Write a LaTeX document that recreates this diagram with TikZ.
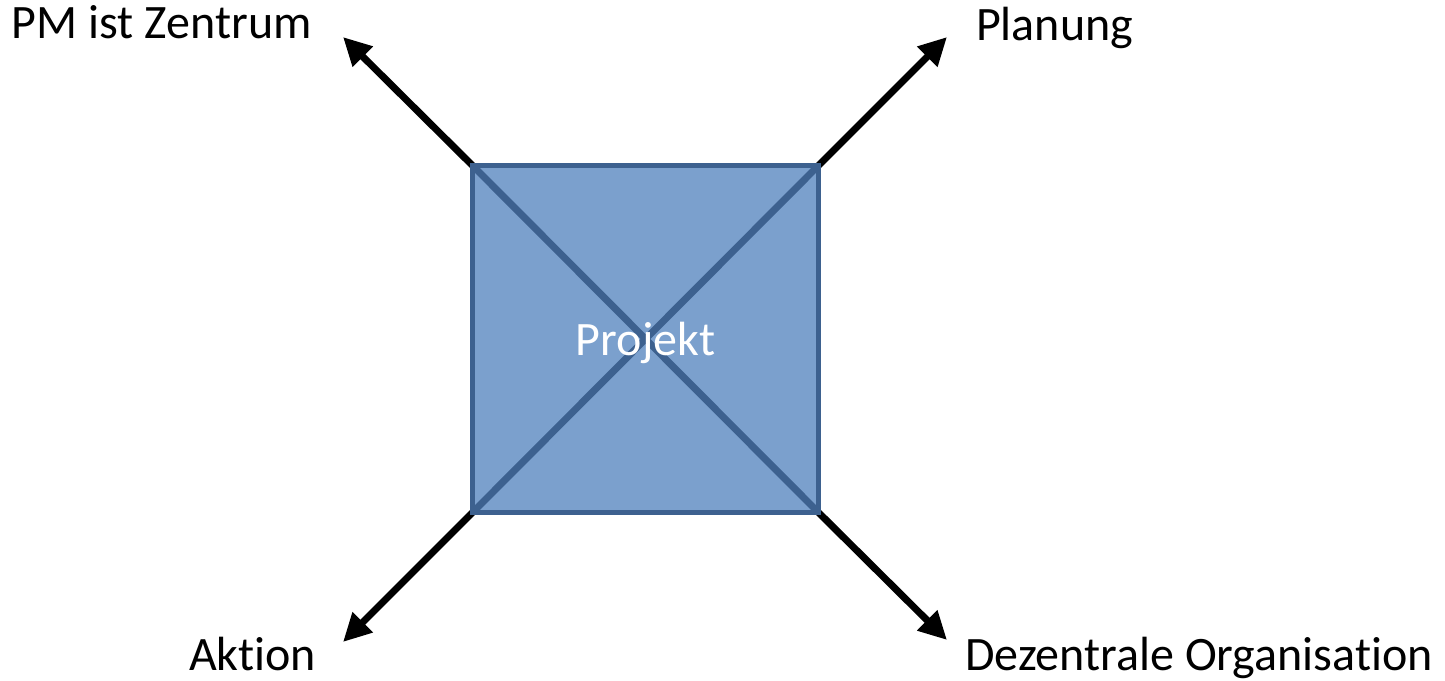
\documentclass[tikz,border=0pt]{standalone}
\usepackage{fontspec}
\setmainfont{Carlito}[Ligatures=NoCommon]
\usetikzlibrary{arrows.meta}
\definecolor{boxfill}{RGB}{123,160,205}
\definecolor{boxline}{RGB}{61,97,143}
\begin{document}
\begin{tikzpicture}[x=1pt,y=-1pt,
  lbl/.style={inner sep=0pt,outer sep=0pt,anchor=base west,font=\fontsize{48}{55}\selectfont},
  arr/.style={line width=7pt,-{Triangle[length=28pt,width=27pt]}},
  boxst/.style={draw=boxline,fill=boxfill,line width=5pt,minimum width=346pt,minimum height=347pt,inner sep=0pt,outer sep=0pt},
  diag/.style={draw=boxline,line width=7pt}]
\useasboundingbox (0,0) rectangle (1445,680);
% square node
\node[boxst] (sq) at (645.5,339) {};
% arrow end points
\coordinate (tl) at (343,37);
\coordinate (tr) at (947,37);
\coordinate (bl) at (343,642);
\coordinate (br) at (947,640);
\draw[arr] (sq.north west) -- (tl);
\draw[arr] (sq.north east) -- (tr);
\draw[arr] (sq.south west) -- (bl);
\draw[arr] (sq.south east) -- (br);
% redraw square on top of arrow tails
\node[boxst] (sq2) at (sq.center) {};
\draw[diag] (sq2.north west) -- (sq2.south east);
\draw[diag] (sq2.north east) -- (sq2.south west);
\node[lbl,anchor=base,text=white] (proj) at (645.5,355) {Projekt};
% labels
\node[lbl] (l1) at (12,38) {PM ist Zentrum};
\node[lbl] (l2) at (976,40) {Planung};
\node[lbl] (l3) at (189,670) {Aktion};
\node[lbl] (l4) at (965,670) {Dezentrale Organisation};
\end{tikzpicture}
\end{document}
